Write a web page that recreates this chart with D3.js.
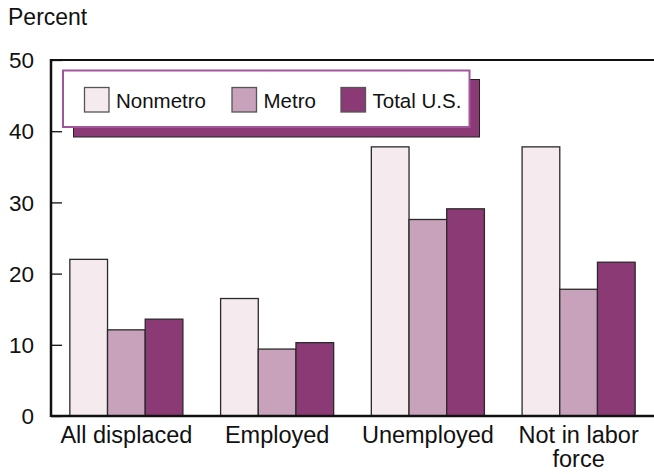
<!DOCTYPE html>
<html>
<head>
<meta charset="utf-8">
<script src="https://cdn.jsdelivr.net/npm/d3@7"></script>
<style>
  body { margin: 0; background: #fff; }
  text { font-family: "Liberation Sans", Arial, sans-serif; fill: #111; }
</style>
</head>
<body>
<div id="chart"></div>
<script>
// donnees
var categories = ["All displaced", "Employed", "Unemployed", "Not in labor force"];
var series = ["Nonmetro", "Metro", "Total U.S."];
var nonmetro = [22.0, 16.5, 37.8, 37.8];
var metro = [12.1, 9.4, 27.6, 17.8];
var totalUS = [13.6, 10.3, 29.1, 21.6];
var yTicks = [0, 10, 20, 30, 40, 50];
var colors = ["#f5eaee", "#c8a2ba", "#8c3a76"];

var width = 654, height = 474;
var plotLeft = 51, plotRight = 654, plotTop = 60, plotBottom = 416;

var values = [nonmetro, metro, totalUS];
var rows = categories.map(function(c, i) {
  return { cat: c, vals: series.map(function(s, j) { return { serie: s, v: values[j][i], j: j }; }) };
});

var svg = d3.select("#chart").append("svg")
  .attr("width", width).attr("height", height);

var x0 = d3.scaleBand().domain(categories).range([plotLeft, plotRight])
  .paddingInner(0.25).paddingOuter(0.125);
var x1 = d3.scaleBand().domain(series).range([0, x0.bandwidth()]);
var y = d3.scaleLinear().domain([0, 50]).range([plotBottom, plotTop]);

// barres
var groups = svg.selectAll("g.grp").data(rows).enter().append("g")
  .attr("class", "grp")
  .attr("transform", function(d) { return "translate(" + x0(d.cat) + ",0)"; });

groups.selectAll("rect").data(function(d) { return d.vals; }).enter().append("rect")
  .attr("x", function(d) { return x1(d.serie); })
  .attr("y", function(d) { return y(d.v); })
  .attr("width", x1.bandwidth())
  .attr("height", function(d) { return y(0) - y(d.v); })
  .style("fill", function(d) { return colors[d.j]; })
  .style("stroke", "#2a2a2a")
  .style("stroke-width", 1.3);

// axe y (ticks vers l'interieur)
var yAxis = svg.append("g").attr("transform", "translate(" + plotLeft + ",0)")
  .call(d3.axisRight(y).tickValues(yTicks).tickSize(11).tickFormat(""));
yAxis.select(".domain").remove();
yAxis.selectAll(".tick line").style("stroke", "#111").style("stroke-width", 1.3);

svg.selectAll("text.ytick").data(yTicks).enter().append("text")
  .attr("class", "ytick")
  .attr("x", 34)
  .attr("y", function(d) { return y(d); })
  .attr("dy", "0.36em")
  .attr("text-anchor", "end")
  .style("font-size", "22.5px")
  .text(function(d) { return d; });

// cadre : haut, gauche, bas
svg.append("line").attr("x1", plotLeft).attr("x2", plotRight).attr("y1", plotTop).attr("y2", plotTop)
  .style("stroke", "#111").style("stroke-width", 2);
svg.append("line").attr("x1", plotLeft).attr("x2", plotLeft).attr("y1", plotTop - 1).attr("y2", plotBottom + 1)
  .style("stroke", "#111").style("stroke-width", 2.5);
svg.append("line").attr("x1", plotLeft).attr("x2", plotRight).attr("y1", plotBottom).attr("y2", plotBottom)
  .style("stroke", "#111").style("stroke-width", 2.5);

// libelles categories
var catLabels = svg.selectAll("text.cat").data(categories).enter().append("text")
  .attr("class", "cat")
  .attr("text-anchor", "middle")
  .attr("y", 443)
  .style("font-size", "23.5px");
catLabels.each(function(d) {
  var t = d3.select(this);
  var cx = x0(d) + x0.bandwidth() / 2;
  var lines = d === "Not in labor force" ? ["Not in labor", "force"] : [d];
  lines.forEach(function(l, i) {
    t.append("tspan").attr("x", cx).attr("dy", i ? 23.5 : 0).text(l);
  });
});

// titre axe
svg.append("text").attr("x", 8).attr("y", 25).style("font-size", "23px").text("Percent");

// legende avec ombre
var leg = svg.append("g");
leg.append("rect").attr("x", 73.5).attr("y", 79.5).attr("width", 406).attr("height", 57.5)
  .style("fill", colors[2]).style("stroke", "#222").style("stroke-width", 1);
leg.append("rect").attr("x", 63).attr("y", 70.5).attr("width", 406.5).attr("height", 56.5)
  .style("fill", "#fff").style("stroke", "#a2569a").style("stroke-width", 2);

var legX = [84.5, 232, 341];
var items = leg.selectAll("g.item").data(series).enter().append("g")
  .attr("class", "item")
  .attr("transform", function(d, i) { return "translate(" + legX[i] + ",87.5)"; });
items.append("rect").attr("width", 24.5).attr("height", 24.5)
  .style("fill", function(d, i) { return colors[i]; })
  .style("stroke", "#555").style("stroke-width", 1.3);
items.append("text").attr("x", 31.5).attr("y", 20.5)
  .style("font-size", "20.5px")
  .text(function(d) { return d; });
</script>
</body>
</html>
